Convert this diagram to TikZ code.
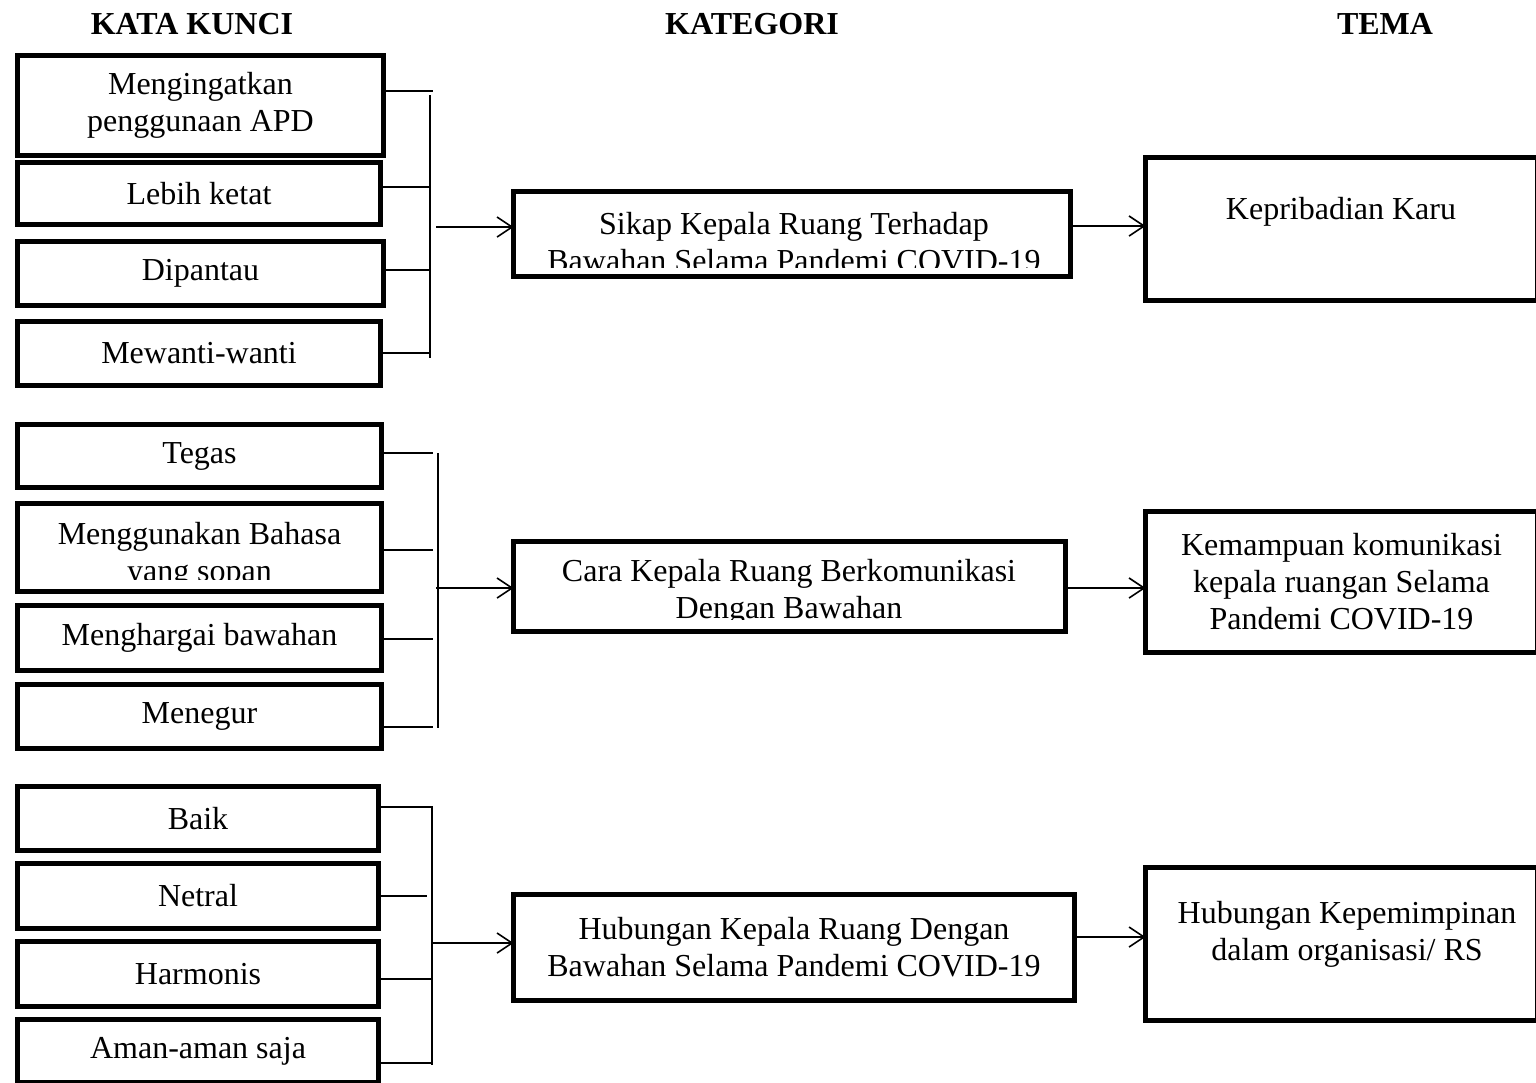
\documentclass[tikz,border=0pt]{standalone}
\usepackage{fontspec}
\setmainfont{Liberation Serif}
\usetikzlibrary{arrows.meta}
\tikzset{
  bx/.style={draw, line width=5pt, inner sep=0pt, outer sep=0pt, align=center, font=\fontsize{32}{37}\selectfont},
  txt/.style={inner sep=0pt, align=center, font=\fontsize{32}{37}\selectfont},
  hdr/.style={inner sep=0pt, font=\fontsize{32}{37}\selectfont\bfseries},
  ln/.style={line width=1.6pt},
  arr/.style={line width=1.6pt, -{Straight Barb[length=15pt,width=20pt,line width=1.6pt]}}
}
\begin{document}
\begin{tikzpicture}[x=1pt,y=-1pt]
\clip (0,0) rectangle (1536,1082);
\fill[white] (0,0) rectangle (1536,1082);
% headers
\node[hdr] (h1) at (192,24) {KATA KUNCI};
\node[hdr] (h2) at (752,24) {KATEGORI};
\node[hdr] (h3) at (1385,24) {TEMA};
% group 1 keywords
\node[bx, minimum width=366, minimum height=100] (k1) at (200.5,105.5) {Mengingatkan\\penggunaan APD};
\node[bx, minimum width=363, minimum height=62] (k2) at (199,193.5) {Lebih ketat};
\node[bx, minimum width=366, minimum height=64] (k3) at (200.5,273.5) {Dipantau};
\node[bx, minimum width=363, minimum height=64] (k4) at (199,353.5) {Mewanti-wanti};
% group 2 keywords
\node[bx, minimum width=364, minimum height=88] (k5) at (199.5,456) [minimum height=63] {Tegas};
\node[bx, minimum width=364, minimum height=88] (k6) at (199.5,547.5) {};
\begin{scope}
\clip (20,505) rectangle (380,579);
\node[txt] (k6t) at (199.5,555) {Menggunakan Bahasa\\yang sopan};
\end{scope}
\node[bx, minimum width=364, minimum height=65] (k7) at (199.5,638) {Menghargai bawahan};
\node[bx, minimum width=364, minimum height=64] (k8) at (199.5,716.5) {Menegur};
% group 3 keywords
\node[bx, minimum width=361, minimum height=64] (k9) at (198,818.5) {Baik};
\node[bx, minimum width=361, minimum height=65] (k10) at (198,896) {Netral};
\node[bx, minimum width=361, minimum height=65] (k11) at (198,974) {Harmonis};
\node[bx, minimum width=361, minimum height=63] (k12) at (198,1051) {Aman-aman saja};
% categories
\node[bx, minimum width=557, minimum height=85] (c1) at (792,234) {};
\begin{scope}
\clip (515,193) rectangle (1069,267);
\node[txt] (c1t) at (794,242) {Sikap Kepala Ruang Terhadap\\Bawahan Selama Pandemi COVID-19};
\end{scope}
\node[bx, minimum width=552, minimum height=90] (c2) at (789.5,586.5) {};
\begin{scope}
\clip (515,543) rectangle (1064,619);
\node[txt] (c2t) at (789,592) {Cara Kepala Ruang Berkomunikasi\\Dengan Bawahan};
\end{scope}
\node[bx, minimum width=561, minimum height=106] (c3) at (794,947.5) {Hubungan Kepala Ruang Dengan\\Bawahan Selama Pandemi COVID-19};
% themes
\node[bx, minimum width=392, minimum height=143] (t1) at (1341.5,229) {};
\node[txt] (t1t) at (1341,212) {Kepribadian Karu};
\node[bx, minimum width=392, minimum height=141] (t2) at (1341.5,582) {Kemampuan komunikasi\\kepala ruangan Selama\\Pandemi COVID-19};
\node[bx, minimum width=392, minimum height=153] (t3) at (1341.5,944) {};
\node[txt] (t3t) at (1347,934) {Hubungan Kepemimpinan\\dalam organisasi/ RS};
% bracket 1
\coordinate (a1) at (430,91);
\coordinate (a2) at (430,187);
\coordinate (a3) at (430,270);
\coordinate (a4) at (430,353);
\coordinate (am) at (430,227);
\draw[ln] (k1.east |- a1) -- ++(49,0);
\draw[ln] (k2.east |- a2) -- ++(49,0);
\draw[ln] (k3.east |- a3) -- ++(46,0);
\draw[ln] (k4.east |- a4) -- (a4);
\draw[ln] (430,95) -- (430,358);
\draw[arr] ([xshift=6pt]am) -- (c1.west |- am);
% bracket 2
\coordinate (b1) at (438,453);
\coordinate (b2) at (438,550);
\coordinate (b3) at (438,639);
\coordinate (b4) at (438,727);
\coordinate (bm) at (438,588);
\draw[ln] (k5.east |- b1) -- ++(51,0);
\draw[ln] (k6.east |- b2) -- ++(51,0);
\draw[ln] (k7.east |- b3) -- ++(51,0);
\draw[ln] (k8.east |- b4) -- ++(51,0);
\draw[ln] (438,453) -- (438,728);
\draw[arr] ([xshift=-2pt]bm) -- (c2.west |- bm);
% bracket 3
\coordinate (d1) at (432,807);
\coordinate (d2) at (427,896);
\coordinate (d3) at (432,979);
\coordinate (d4) at (432,1063);
\coordinate (dm) at (432,943);
\draw[ln] (k9.east |- d1) -- (d1);
\draw[ln] (k10.east |- d2) -- (d2);
\draw[ln] (k11.east |- d3) -- (d3);
\draw[ln] (k12.east |- d4) -- (d4);
\draw[ln] (432,806) -- (432,1065);
\draw[arr] (dm) -- (c3.west |- dm);
% category -> theme
\coordinate (e1) at (1100,226);
\coordinate (e2) at (1100,588);
\coordinate (e3) at (1100,937);
\draw[arr] (c1.east |- e1) -- (t1.west |- e1);
\draw[arr] (c2.east |- e2) -- (t2.west |- e2);
\draw[arr] (c3.east |- e3) -- (t3.west |- e3);
\end{tikzpicture}
\end{document}
